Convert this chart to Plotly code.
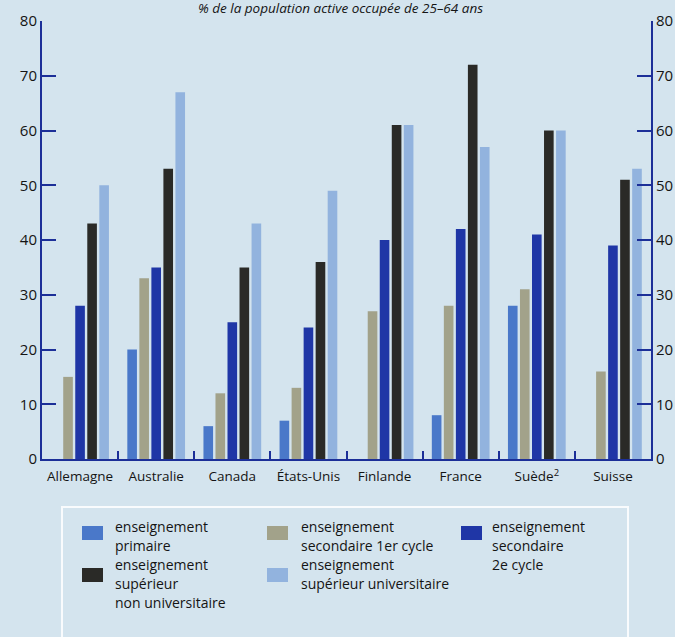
import plotly.graph_objects as go

countries = ["Allemagne", "Australie", "Canada", "États-Unis", "Finlande",
             "France", "Suède<sup>2</sup>", "Suisse"]

series_names = [
    "enseignement<br>primaire",
    "enseignement<br>secondaire 1er cycle",
    "enseignement<br>secondaire<br>2e cycle",
    "enseignement<br>supérieur<br>non universitaire",
    "enseignement<br>supérieur universitaire",
]

primaire = [None, 20, 6, 7, None, 8, 28, None]
secondaire_1 = [15, 33, 12, 13, 27, 28, 31, 16]
secondaire_2 = [28, 35, 25, 24, 40, 42, 41, 39]
sup_non_univ = [43, 53, 35, 36, 61, 72, 60, 51]
sup_univ = [50, 67, 43, 49, 61, 57, 60, 53]

series_values = [primaire, secondaire_1, secondaire_2, sup_non_univ, sup_univ]
series_colors = ["#4a78c9", "#a2a28a", "#1f36a6", "#2a2a27", "#92b3de"]

y_ticks = [0, 10, 20, 30, 40, 50, 60, 70, 80]
subtitle = "% de la population active occupée de 25–64 ans"

W, H = 675, 637
L, R, T, B = 42, 24, 21, 178
PW = W - L - R
PH = H - T - B
AXIS = "#1c2f98"
BG = "#d4e4ee"
TXT = "#141414"
FONT = "Open Sans"


def px(x):
    return (x - L) / PW


def py(y):
    return (T + PH - y) / PH


fig = go.Figure()
for name, vals, col in zip(series_names, series_values, series_colors):
    fig.add_trace(go.Bar(x=countries, y=vals, name=name, marker_color=col,
                         marker_line_width=0, showlegend=False))

# invisible helper so the right-hand axis is drawn
fig.add_trace(go.Scatter(x=[countries[0]], y=[0], yaxis="y2", mode="markers",
                         marker=dict(opacity=0), showlegend=False,
                         hoverinfo="skip"))

axis_common = dict(range=[0, 80], tickvals=y_ticks, showline=True,
                   linecolor=AXIS, linewidth=2, ticks="inside", ticklen=14,
                   tickwidth=2, tickcolor=AXIS, showgrid=False, zeroline=False,
                   tickfont=dict(family=FONT, size=15, color=TXT))

fig.update_layout(
    width=W, height=H,
    margin=dict(l=L, r=R, t=T, b=B, autoexpand=False),
    paper_bgcolor=BG, plot_bgcolor=BG,
    barmode="group", bargap=0.21, bargroupgap=0.2,
    xaxis=dict(showline=True, linecolor=AXIS, linewidth=2, ticks="inside",
               ticklen=8, tickwidth=1.5, tickcolor=AXIS, tickson="boundaries",
               showgrid=False, zeroline=False, tickangle=0,
               ticklabelstandoff=4,
               tickfont=dict(family=FONT, size=13.5, color=TXT)),
    yaxis=axis_common,
    yaxis2=dict(overlaying="y", side="right", anchor="x", **axis_common),
)

# subtitle
fig.add_annotation(text=subtitle, xref="paper", yref="paper",
                   x=px(340), y=py(8), xanchor="center", yanchor="middle",
                   showarrow=False,
                   font=dict(family=FONT, size=13.5, color=TXT, style="italic"))

# legend box
fig.add_shape(type="rect", xref="paper", yref="paper",
              x0=px(62), x1=px(628), y0=py(645), y1=py(507),
              line=dict(color="rgba(255,255,255,0.85)", width=2),
              fillcolor="rgba(0,0,0,0)", layer="above")

# legend entries: (swatch x, text x, swatch top y)
legend_pos = [
    (82, 113, 526),
    (267, 299, 526),
    (461, 490, 526),
    (82, 113, 568),
    (267, 299, 568),
]
line_first = [526, 526, 526, 564, 564]
LINE_H = 19
for i, (name, col) in enumerate(zip(series_names, series_colors)):
    sx, tx, sy = legend_pos[i]
    fig.add_shape(type="rect", xref="paper", yref="paper",
                  x0=px(sx), x1=px(sx + 21), y0=py(sy + 14), y1=py(sy),
                  line=dict(width=0), fillcolor=col)
    for j, line in enumerate(name.split("<br>")):
        fig.add_annotation(text=line, xref="paper", yref="paper",
                           x=px(tx), y=py(line_first[i] + j * LINE_H),
                           xanchor="left", yanchor="middle", showarrow=False,
                           font=dict(family=FONT, size=14, color=TXT))

fig.write_html("out.html")
